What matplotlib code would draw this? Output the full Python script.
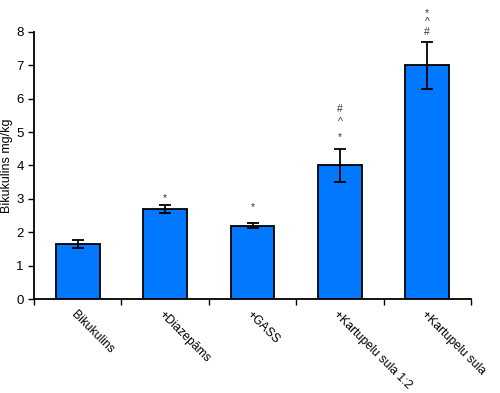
import matplotlib
matplotlib.use("Agg")
import matplotlib.pyplot as plt
from matplotlib.ticker import FixedLocator

plt.rcParams["font.family"] = ["Liberation Sans", "DejaVu Sans"]

# data
groups = ["Bikukulins", "+Diazepāms", "+GASS", "+Kartupelu sula 1:2", "+Kartupelu sula"]
means = [1.65, 2.7, 2.2, 4.0, 7.0]
errs = [0.12, 0.13, 0.07, 0.5, 0.7]
# significance marks per bar: (symbol, y position in data units)
marks = [
    [],
    [("*", 3.02)],
    [("*", 2.76)],
    [("*", 4.85), ("^", 5.3), ("#", 5.68)],
    [("#", 7.99), ("^", 8.29), ("*", 8.56)],
]

fig = plt.figure(figsize=(5.0, 3.93), dpi=100)
ax = fig.add_axes([0.068, 0.239, 0.874, 0.68])

x = list(range(len(groups)))
ax.bar(x, means, width=0.5, color="#0078FF", edgecolor="black", linewidth=1.3,
       yerr=errs, error_kw=dict(ecolor="black", elinewidth=1.3, capsize=4, capthick=1.3))

for xi, ms in zip(x, marks):
    for sym, yy in ms:
        ax.text(xi, yy, sym, ha="center", va="center", fontsize=7.5, color="#333333",
                clip_on=False)

ax.set_xlim(-0.5, len(groups) - 0.5)
ax.set_ylim(0, 8)
ax.set_yticks(range(0, 9))
ax.tick_params(axis="y", labelsize=9.5, length=4, width=1)

ax.set_xticks(x)
ax.set_xticklabels(groups, rotation=-45, ha="left", va="top", rotation_mode="anchor",
                   fontsize=8.7)
ax.tick_params(axis="x", which="major", length=0, pad=7)
ax.xaxis.set_minor_locator(FixedLocator([i - 0.5 for i in range(len(groups) + 1)]))
ax.tick_params(axis="x", which="minor", length=4, width=1)

ax.set_ylabel("Bikukulins mg/kg", fontsize=9, labelpad=2)
ax.spines["top"].set_visible(False)
ax.spines["right"].set_visible(False)
ax.spines["left"].set_linewidth(1.3)
ax.spines["bottom"].set_linewidth(1.3)

fig.savefig("out.png", dpi=100)
